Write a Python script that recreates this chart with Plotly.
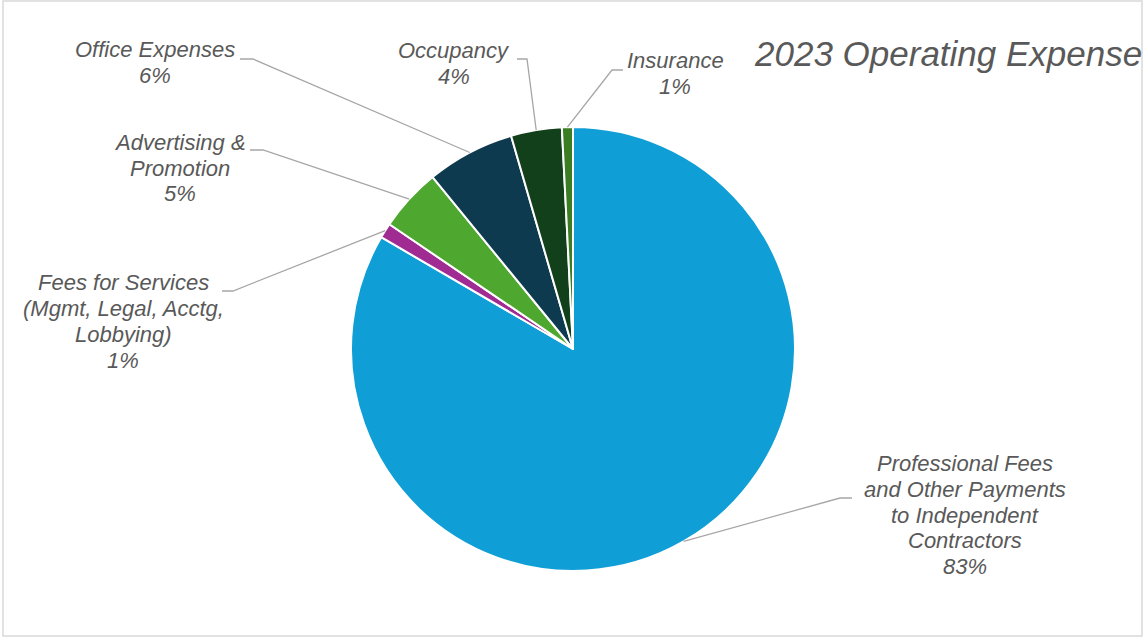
import math
import plotly.graph_objects as go

# ---------------- data ----------------
categories = [
    "Professional Fees and Other Payments to Independent Contractors",
    "Fees for Services (Mgmt, Legal, Acctg, Lobbying)",
    "Advertising & Promotion",
    "Office Expenses",
    "Occupancy",
    "Insurance",
]
values = [83.4, 1.1, 4.6, 6.4, 3.7, 0.8]
label_lines = [
    ["Professional Fees", "and Other Payments", "to Independent", "Contractors"],
    ["Fees for Services", "(Mgmt, Legal, Acctg,", "Lobbying)"],
    ["Advertising &", "Promotion"],
    ["Office Expenses"],
    ["Occupancy"],
    ["Insurance"],
]
title_text = "2023 Operating Expense"

# ---------------- styles / layout ----------------
colors = ["#0F9ED5", "#A02B93", "#4EA72E", "#0E3A50", "#12401A", "#3A7D22"]
W, H = 1144, 638
CX, CY, R = 573, 349, 222  # pie centre / radius in pixels

# label block centres (px) and leader-line start/elbow points (px)
label_pos = [(965, 515), (123, 321.5), (180, 168), (155, 62.5), (454, 63.5), (675, 73.5)]
LINE_GAP = 25.8
leader_start = [(852, 498), (222, 291), (250, 150), (240, 59), (517, 59), (623, 70)]
leader_elbow = [(840, 498), (233, 291), (263, 150), (253, 59), (527, 59), (612, 70)]

TEXT_COLOR = "#595959"
FONT = "Liberation Sans, Arial, sans-serif"


def px(x):
    return x / W


def py(y):
    return 1 - y / H


fig = go.Figure(
    go.Pie(
        labels=categories,
        values=values,
        sort=False,
        direction="clockwise",
        rotation=0,
        marker=dict(colors=colors, line=dict(color="white", width=2)),
        textinfo="none",
        hoverinfo="label+percent",
        domain=dict(x=[px(CX - R), px(CX + R)], y=[py(CY + R), py(CY - R)]),
        showlegend=False,
    )
)

total = sum(values)
shapes = []
annotations = []
cum = 0.0
for i, v in enumerate(values):
    mid = (cum + v / 2) / total * 2 * math.pi  # clockwise from 12 o'clock
    cum += v
    ex = CX + R * math.sin(mid)
    ey = CY - R * math.cos(mid)
    sx, sy = leader_start[i]
    bx, by = leader_elbow[i]
    shapes.append(
        dict(
            type="path",
            xref="paper",
            yref="paper",
            path=f"M {px(sx)},{py(sy)} L {px(bx)},{py(by)} L {px(ex)},{py(ey)}",
            line=dict(color="#A6A6A6", width=1.3),
        )
    )
    pct = int(v / total * 100 + 0.5)
    lines = label_lines[i] + [f"{pct}%"]
    lx, ly = label_pos[i]
    n = len(lines)
    for k, t in enumerate(lines):
        yy = ly + (k - (n - 1) / 2) * LINE_GAP
        annotations.append(
            dict(
                x=px(lx),
                y=py(yy),
                xref="paper",
                yref="paper",
                text=t,
                showarrow=False,
                xanchor="center",
                yanchor="middle",
                align="center",
                font=dict(family=FONT, size=22, color=TEXT_COLOR, style="italic"),
            )
        )

annotations.append(
    dict(
        x=px(752),
        y=py(53),
        xref="paper",
        yref="paper",
        text=title_text,
        showarrow=False,
        xanchor="left",
        yanchor="middle",
        font=dict(family=FONT, size=35, color=TEXT_COLOR, style="italic"),
    )
)

# chart frame
shapes.append(
    dict(
        type="rect",
        xref="paper",
        yref="paper",
        x0=px(3),
        x1=px(1142),
        y0=py(636),
        y1=py(1),
        line=dict(color="#D9D9D9", width=1.5),
        fillcolor="rgba(0,0,0,0)",
    )
)

fig.update_layout(
    width=W,
    height=H,
    margin=dict(l=0, r=0, t=0, b=0),
    paper_bgcolor="white",
    plot_bgcolor="white",
    shapes=shapes,
    annotations=annotations,
)

fig.write_html("out.html")
